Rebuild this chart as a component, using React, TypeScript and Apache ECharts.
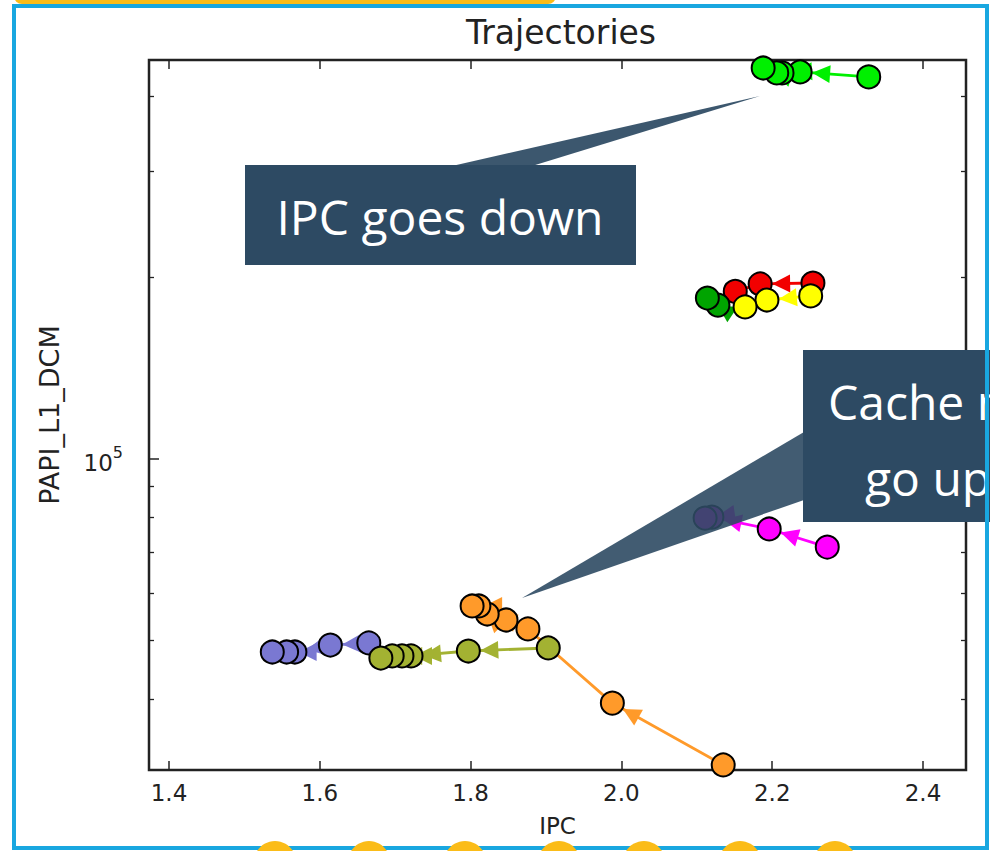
import React, { useEffect, useRef } from "react";
import * as echarts from "echarts";

// ---- data (IPC, PAPI_L1_DCM), listed in trajectory order ----
const BLUE: number[][] = [[1.665, 49540], [1.614, 49150], [1.567, 47860], [1.556, 47860], [1.537, 47860]];
const OLIVE: number[][] = [[1.903, 48600], [1.797, 48040], [1.721, 47140], [1.709, 47140], [1.696, 47140], [1.681, 46770]];
const ORANGE: number[][] = [[2.135, 31090], [1.988, 39380], [1.876, 52260], [1.847, 54080], [1.822, 55330], [1.811, 57050], [1.802, 57050]];
const MAGENTA: number[][] = [[2.273, 71450], [2.196, 76550], [2.12, 80100], [2.111, 79800]];
const RED: number[][] = [[2.254, 195800], [2.184, 195100], [2.151, 189600]];
const YELLOW: number[][] = [[2.251, 186400], [2.193, 183500], [2.164, 178700]];
const DARKGREEN: number[][] = [[2.128, 180000], [2.114, 184900]];
const LIME: number[][] = [[2.328, 430100], [2.237, 438300], [2.213, 436700], [2.206, 436700], [2.188, 445000]];

const X_TICKS = [1.4, 1.6, 1.8, 2.0, 2.2, 2.4];
const Y_MAJOR = [100000];
const Y_MINOR = [40000, 50000, 60000, 70000, 80000, 90000, 200000, 300000, 400000];
const X_MIN = 1.3735;
const X_MAX = 2.457;
const Y_MIN = 30500;
const Y_MAX = 458800;

const TRAJECTORIES = [
  { name: "blue", color: "#7a78d2", data: BLUE },
  { name: "olive", color: "#a3b232", data: OLIVE },
  { name: "orange", color: "#ff9a2a", data: ORANGE },
  { name: "magenta", color: "#ff00ff", data: MAGENTA },
  { name: "red", color: "#f20000", data: RED },
  { name: "yellow", color: "#ffff00", data: YELLOW },
  { name: "darkgreen", color: "#00a400", data: DARKGREEN },
  { name: "lime", color: "#00f000", data: LIME },
];

const lg = (v: number) => Math.log10(v);
const TICK_COLOR = "#222";
const FONT = "DejaVu Sans";
const CALLOUT_FONT = '48px "Open Sans"';

function buildOption() {
  const series: any[] = [];
  TRAJECTORIES.forEach((t, i) => {
    const pts = t.data.map((p) => [p[0], lg(p[1])]);
    series.push({
      type: "line",
      name: t.name + "-line",
      data: pts,
      showSymbol: false,
      symbol: "none",
      lineStyle: { color: t.color, width: 2.8 },
      z: 2,
      silent: true,
    });
    const segs: number[][] = [];
    for (let k = 0; k < pts.length - 1; k++) {
      segs.push([pts[k][0], pts[k][1], pts[k + 1][0], pts[k + 1][1]]);
    }
    series.push({
      type: "custom",
      name: t.name + "-arrows",
      data: segs,
      encode: { x: [0, 2], y: [1, 3] },
      z: 3,
      silent: true,
      renderItem: (params: any, api: any) => {
        const p1 = api.coord([api.value(0), api.value(1)]);
        const p2 = api.coord([api.value(2), api.value(3)]);
        const dx = p2[0] - p1[0];
        const dy = p2[1] - p1[1];
        const len = Math.hypot(dx, dy);
        if (len < 1) return null;
        const ux = dx / len;
        const uy = dy / len;
        const nx = -uy;
        const ny = ux;
        const tipD = 12;
        const tx = p2[0] - ux * tipD;
        const ty = p2[1] - uy * tipD;
        const hl = 18;
        const hw = 9;
        const bx = tx - ux * hl;
        const by = ty - uy * hl;
        return {
          type: "polygon",
          shape: { points: [[tx, ty], [bx + nx * hw, by + ny * hw], [bx - nx * hw, by - ny * hw]] },
          style: { fill: t.color },
        };
      },
    });
    series.push({
      type: "scatter",
      name: t.name,
      data: pts,
      symbol: "circle",
      symbolSize: 23,
      itemStyle: { color: t.color, borderColor: "#000", borderWidth: 2, opacity: 1 },
      z: 4 + i * 0.01,
      silent: true,
    });
  });

  const majorTickY = Y_MAJOR.map(lg);
  const minorTickY = Y_MINOR.map(lg);
  const gridRect = { left: 149, right: 24, top: 60, bottom: 81 };

  const xBase = {
    type: "value",
    min: X_MIN,
    max: X_MAX,
    splitLine: { show: false },
    axisLine: { show: false },
  };
  const yBase = {
    type: "value",
    min: lg(Y_MIN),
    max: lg(Y_MAX),
    splitLine: { show: false },
    axisLine: { show: false },
  };

  return {
    animation: false,
    backgroundColor: "#ffffff",
    title: {
      text: "Trajectories",
      left: 556,
      textAlign: "center",
      top: 11,
      textStyle: { fontFamily: FONT, fontSize: 33, fontWeight: "normal", color: "#222" },
    },
    grid: [
      { ...gridRect, show: true, borderColor: "#222", borderWidth: 2.5, backgroundColor: "transparent" },
      { ...gridRect, show: false },
    ],
    xAxis: [
      {
        ...xBase,
        gridIndex: 0,
        position: "bottom",
        name: "IPC",
        nameLocation: "middle",
        nameGap: 44,
        nameTextStyle: { fontFamily: FONT, fontSize: 23, color: "#222" },
        axisTick: { show: true, inside: true, length: 9, customValues: X_TICKS, lineStyle: { color: TICK_COLOR, width: 1.5 } },
        axisLabel: {
          show: true,
          customValues: X_TICKS,
          margin: 11,
          formatter: (v: number) => v.toFixed(1),
          fontFamily: FONT,
          fontSize: 23,
          color: "#222",
        },
      },
      {
        ...xBase,
        gridIndex: 0,
        position: "top",
        axisTick: { show: true, inside: true, length: 9, customValues: X_TICKS, lineStyle: { color: TICK_COLOR, width: 1.5 } },
        axisLabel: { show: false },
      },
      { ...xBase, gridIndex: 1, show: false },
    ],
    yAxis: [
      {
        ...yBase,
        gridIndex: 0,
        position: "left",
        name: "PAPI_L1_DCM",
        nameLocation: "middle",
        nameGap: 86,
        nameTextStyle: { fontFamily: FONT, fontSize: 27, color: "#222" },
        axisTick: { show: true, inside: true, length: 10, customValues: majorTickY, lineStyle: { color: TICK_COLOR, width: 1.5 } },
        axisLabel: {
          show: true,
          customValues: majorTickY,
          margin: 26,
          formatter: (v: number) => "{b|10}{s|" + Math.round(v) + "}",
          rich: {
            b: { fontFamily: FONT, fontSize: 23, color: "#222", lineHeight: 30, verticalAlign: "bottom" },
            s: { fontFamily: FONT, fontSize: 16, color: "#222", lineHeight: 15, verticalAlign: "top" },
          },
        },
      },
      {
        ...yBase,
        gridIndex: 0,
        position: "right",
        axisTick: { show: true, inside: true, length: 10, customValues: majorTickY, lineStyle: { color: TICK_COLOR, width: 1.5 } },
        axisLabel: { show: false },
      },
      {
        ...yBase,
        gridIndex: 1,
        position: "left",
        axisTick: { show: true, inside: true, length: 5, customValues: minorTickY, lineStyle: { color: TICK_COLOR, width: 1.3 } },
        axisLabel: { show: false },
      },
      {
        ...yBase,
        gridIndex: 1,
        position: "right",
        axisTick: { show: true, inside: true, length: 5, customValues: minorTickY, lineStyle: { color: TICK_COLOR, width: 1.3 } },
        axisLabel: { show: false },
      },
    ],
    series: series.map((s) => ({ ...s, xAxisIndex: 0, yAxisIndex: 0 })),
    graphic: [
      // callout: IPC goes down
      {
        type: "polygon",
        z: 100,
        shape: { points: [[452, 166], [760, 96], [532, 166]] },
        style: { fill: "#2d4a63", opacity: 0.93 },
        silent: true,
      },
      {
        type: "rect",
        z: 100,
        shape: { x: 245, y: 165, width: 391, height: 100 },
        style: { fill: "#2d4a63" },
        silent: true,
      },
      {
        type: "text",
        z: 101,
        x: 440,
        y: 216,
        style: {
          text: "IPC goes down",
          fill: "#ffffff",
          font: CALLOUT_FONT,
          textAlign: "center",
          textVerticalAlign: "middle",
        },
        silent: true,
      },
      // callout: Cache misses go up (cropped at the right edge, as in the slide)
      {
        type: "polygon",
        z: 100,
        shape: { points: [[804, 432], [522, 598], [804, 500]] },
        style: { fill: "#2d4a63", opacity: 0.9 },
        silent: true,
      },
      {
        type: "rect",
        z: 100,
        shape: { x: 803, y: 350, width: 220, height: 172 },
        style: { fill: "#2d4a63" },
        silent: true,
      },
      {
        type: "text",
        z: 101,
        x: 828,
        y: 401,
        style: { text: "Cache misses", fill: "#ffffff", font: CALLOUT_FONT, textAlign: "left", textVerticalAlign: "middle" },
        silent: true,
      },
      {
        type: "text",
        z: 101,
        x: 865,
        y: 477,
        style: { text: "go up", fill: "#ffffff", font: CALLOUT_FONT, textAlign: "left", textVerticalAlign: "middle" },
        silent: true,
      },
      // slide frame decorations
      {
        type: "rect",
        z: 110,
        shape: { x: 14, y: 6, width: 973, height: 842 },
        style: { fill: "none", stroke: "#19a7e0", lineWidth: 4 },
        silent: true,
      },
      {
        type: "rect",
        z: 111,
        shape: { x: 14, y: -20, width: 542, height: 24, r: 8 },
        style: { fill: "#fbbc18" },
        silent: true,
      },
      ...[275, 369, 465, 559, 644, 740, 835].map((cx) => ({
        type: "circle",
        z: 111,
        shape: { cx, cy: 862, r: 21 },
        style: { fill: "#fbbc18" },
        silent: true,
      })),
    ],
  };
}

export default function App() {
  const ref = useRef<HTMLDivElement>(null);
  useEffect(() => {
    document.body.style.margin = "0";
    if (!ref.current) return;
    const chart = echarts.init(ref.current, undefined, { renderer: "svg" });
    chart.setOption(buildOption() as any);
    return () => chart.dispose();
  }, []);
  return (
    <div
      ref={ref}
      style={{ position: "fixed", left: 0, top: 0, width: 990, height: 851, background: "#fff" }}
    />
  );
}
